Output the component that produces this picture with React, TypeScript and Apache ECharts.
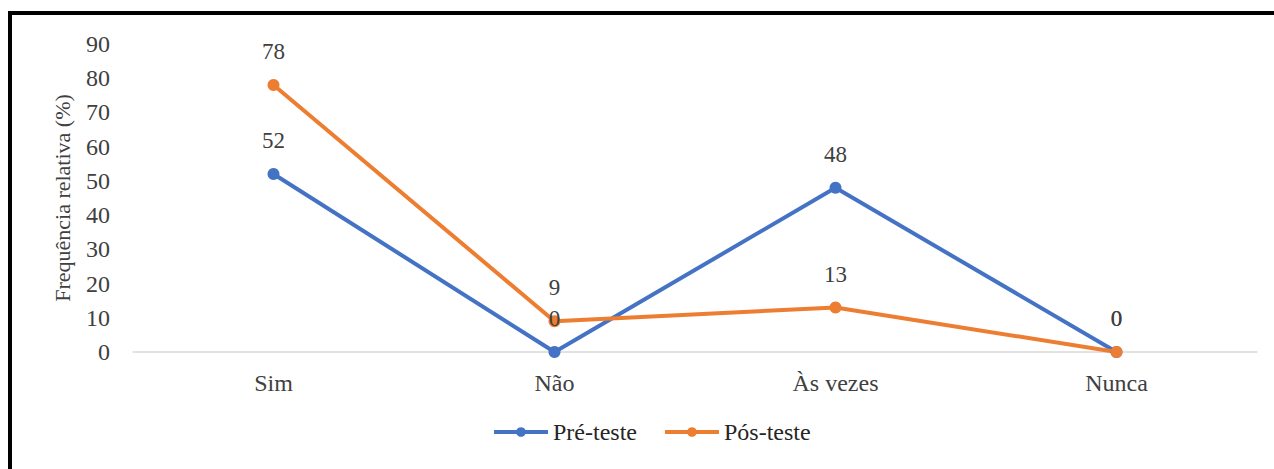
import React, { useEffect, useRef } from "react";
import * as echarts from "echarts";

const categories = ["Sim", "Não", "Às vezes", "Nunca"];
const preTeste = [52, 0, 48, 0];
const posTeste = [78, 9, 13, 0];
const yTicks = { min: 0, max: 90, interval: 10 };
const yTitle = "Frequência relativa (%)";

const FONT = "serif";

function buildOption() {
  const labelStyle = {
    show: true,
    position: "top" as const,
    distance: 16,
    fontFamily: FONT,
    fontSize: 23,
    color: "#404040",
  };
  return {
    animation: false,
    backgroundColor: "#ffffff",
    graphic: [
      { type: "rect", shape: { x: 8, y: 11, width: 1266, height: 4 }, style: { fill: "#000" } },
      { type: "rect", shape: { x: 8, y: 11, width: 4, height: 458 }, style: { fill: "#000" } },
    ],
    grid: { left: 133, right: 17, top: 44, bottom: 117 },
    legend: {
      bottom: 20,
      left: 487,
      itemWidth: 54,
      itemHeight: 12,
      itemGap: 26,
      lineStyle: { width: 4 },
      textStyle: { fontFamily: FONT, fontSize: 24, color: "#262626" },
      data: ["Pré-teste", "Pós-teste"],
    },
    xAxis: {
      type: "category",
      data: categories,
      boundaryGap: true,
      axisLine: { lineStyle: { color: "#d9d9d9", width: 1.5 } },
      axisTick: { show: false },
      axisLabel: { fontFamily: FONT, fontSize: 24, color: "#404040", margin: 19 },
    },
    yAxis: {
      type: "value",
      min: yTicks.min,
      max: yTicks.max,
      interval: yTicks.interval,
      name: yTitle,
      nameLocation: "middle",
      nameGap: 60,
      nameTextStyle: { fontFamily: FONT, fontSize: 22, color: "#404040" },
      axisLine: { show: false },
      axisTick: { show: false },
      splitLine: { show: false },
      axisLabel: { fontFamily: FONT, fontSize: 24, color: "#404040", margin: 23 },
    },
    series: [
      {
        name: "Pré-teste",
        type: "line",
        data: preTeste,
        symbol: "circle",
        symbolSize: 12,
        lineStyle: { color: "#4472C4", width: 4 },
        itemStyle: { color: "#4472C4" },
        label: labelStyle,
      },
      {
        name: "Pós-teste",
        type: "line",
        data: posTeste,
        symbol: "circle",
        symbolSize: 12,
        lineStyle: { color: "#ED7D31", width: 4 },
        itemStyle: { color: "#ED7D31" },
        label: labelStyle,
      },
    ],
  };
}

export default function App() {
  const ref = useRef<HTMLDivElement>(null);
  useEffect(() => {
    if (!ref.current) return;
    const chart = echarts.init(ref.current, null, { renderer: "svg" });
    chart.setOption(buildOption());
    return () => {
      chart.dispose();
    };
  }, []);
  return (
    <div
      ref={ref}
      style={{ position: "absolute", left: 0, top: 0, width: 1274, height: 469 }}
    />
  );
}
